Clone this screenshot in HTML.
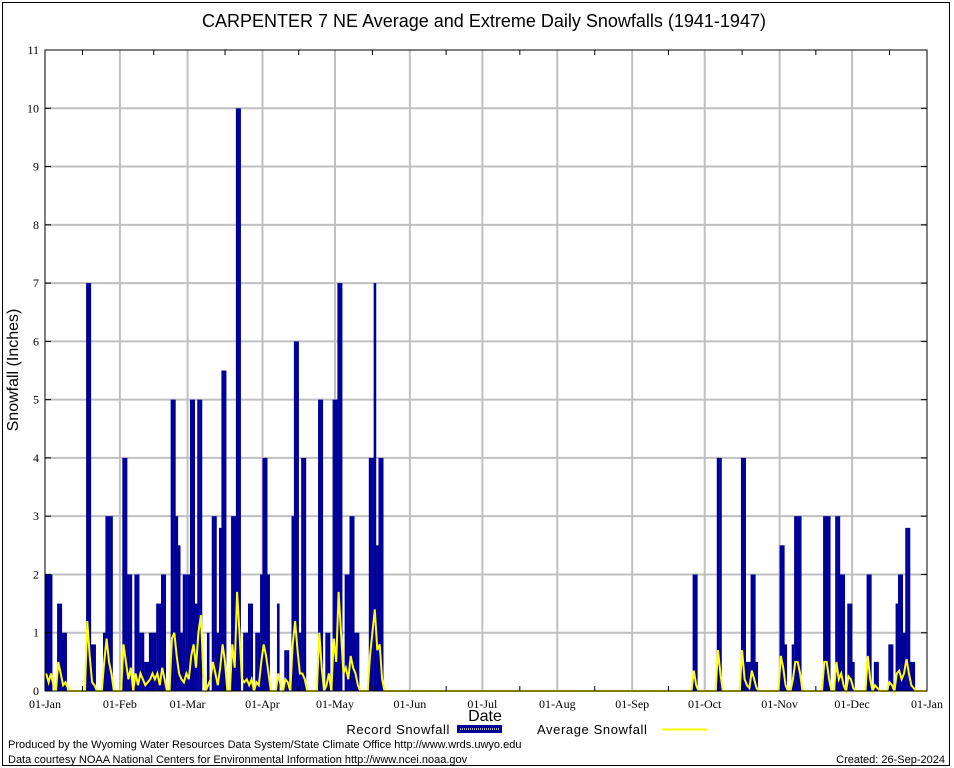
<!DOCTYPE html>
<html><head><meta charset="utf-8"><style>
html,body{margin:0;padding:0;background:#fff;}
svg{display:block;}
</style></head><body>
<svg id="chart" width="954" height="768" viewBox="0 0 954 768" xmlns="http://www.w3.org/2000/svg">
<rect x="2.5" y="2.5" width="947" height="763" fill="#fff" stroke="#000" stroke-width="1"/>
<text x="484" y="27" text-anchor="middle" font-family="Liberation Sans, sans-serif" font-size="18">CARPENTER 7 NE Average and Extreme Daily Snowfalls (1941-1947)</text>
<g id="grid"></g>
<g id="bars"></g>
<g id="avg"></g>
<g id="axes"></g>
<text transform="translate(18,370) rotate(-90)" text-anchor="middle" font-family="Liberation Sans, sans-serif" font-size="16">Snowfall (Inches)</text>
<text x="485" y="721" text-anchor="middle" font-family="Liberation Sans, sans-serif" font-size="16">Date</text>
<g>
<text x="450" y="734" text-anchor="end" font-family="Liberation Sans, sans-serif" font-size="13" letter-spacing="0.6">Record Snowfall</text>
<rect x="457.5" y="725.5" width="44" height="7" fill="#000099" stroke="#000099"/>
<line x1="460" y1="729" x2="499" y2="729" stroke="#aab" stroke-width="2" stroke-dasharray="1,1"/>
<text x="537" y="734" font-family="Liberation Sans, sans-serif" font-size="13" letter-spacing="0.6">Average Snowfall</text>
<line x1="662" y1="729.5" x2="707" y2="729.5" stroke="#ffff00" stroke-width="2"/>
</g>
<text x="8" y="748" font-family="Liberation Sans, sans-serif" font-size="11">Produced by the Wyoming Water Resources Data System/State Climate Office http://www.wrds.uwyo.edu</text>
<text x="8" y="763" font-family="Liberation Sans, sans-serif" font-size="11">Data courtesy NOAA National Centers for Environmental Information http://www.ncei.noaa.gov</text>
<text x="945" y="763" text-anchor="end" font-family="Liberation Sans, sans-serif" font-size="11">Created:  26-Sep-2024</text>
</svg>
<script>
const monthLabels = ["01-Jan","01-Feb","01-Mar","01-Apr","01-May","01-Jun","01-Jul","01-Aug","01-Sep","01-Oct","01-Nov","01-Dec","01-Jan"];
const monthStartDays = [0,31,59,90,120,151,181,212,243,273,304,334,365];
const yTicks = [0,1,2,3,4,5,6,7,8,9,10,11];
const snowDays = [0,1,2,3,5,6,7,8,9,17,18,19,20,24,25,26,27,32,33,34,35,37,38,39,40,41,42,43,44,45,46,47,48,49,52,53,54,55,56,57,58,59,60,61,62,63,64,65,67,68,69,70,71,72,73,74,77,78,79,80,81,82,83,84,85,87,88,89,90,91,92,96,97,99,100,102,103,104,105,106,107,113,114,116,117,119,120,121,122,123,124,125,126,127,128,129,134,135,136,137,138,139,268,269,278,279,288,289,290,291,292,293,294,304,305,306,309,310,311,312,322,323,324,327,328,329,330,332,333,334,340,341,343,344,349,350,352,353,354,355,356,357,358,359];
const recordSnow = [2,2,2,0,1.5,1.5,1,1,0,7,7,0.8,0.8,1,3,3,3,4,4,2,2,2,2,1,1,0.5,0.5,1,1,1,1.5,1.5,2,2,5,5,3,2.5,1,2,2,2,5,5,1.5,5,5,0,1,0,3,3,1,2.8,5.5,5.5,3,3,10,10,0,1,1,1.5,1.5,1,1,2,4,4,2,1.5,0,0.7,0.7,3,6,6,1,4,4,5,5,1,1,5,5,7,7,0,2,2,3,3,1,1,4,4,7,2.5,4,4,2,2,4,4,4,4,0.5,0.5,2,2,0.5,2.5,2.5,0.8,0.8,3,3,3,3,3,3,3,3,2,2,1.5,1.5,0.5,2,2,0.5,0.5,0.8,0.8,1.5,2,2,1,2.8,2.8,0.5,0.5];
const avgSnow = [0.3,0.15,0.3,0.1,0.5,0.3,0.1,0.15,0.05,1.2,0.6,0.15,0.1,0.5,0.9,0.5,0.3,0.8,0.5,0.2,0.4,0.3,0.1,0.3,0.2,0.1,0.15,0.2,0.3,0.2,0.3,0.1,0.4,0.2,0.9,1.0,0.6,0.3,0.2,0.15,0.3,0.2,0.6,0.8,0.4,1.0,1.3,0.3,0.1,0.2,0.5,0.3,0.1,0.4,0.8,0.5,0.8,0.4,1.7,1.0,0.2,0.15,0.2,0.1,0.2,0.15,0.1,0.5,0.8,0.6,0.3,0.3,0.1,0.2,0.15,0.8,1.2,0.7,0.3,0.3,0.2,1.0,0.4,0.1,0.3,0.9,0.5,1.7,1.0,0.3,0.4,0.2,0.6,0.4,0.3,0.1,0.6,1.0,1.4,0.7,0.8,0.2,0.35,0.1,0.7,0.3,0.7,0.2,0.1,0.05,0.35,0.2,0.05,0.6,0.4,0.1,0.2,0.5,0.5,0.3,0.5,0.5,0.2,0.5,0.2,0.3,0.1,0.25,0.2,0.05,0.6,0.2,0.1,0.05,0.15,0.1,0.3,0.35,0.2,0.3,0.55,0.3,0.1,0.05];

const NS="http://www.w3.org/2000/svg";
const L=45,R=927,T=50,B=691,YMAX=11,NDAYS=365;
const xScale=d=>L+d*(R-L)/NDAYS;
const yScale=v=>B-v*(B-T)/YMAX;
function mk(tag,attrs,parent){const e=document.createElementNS(NS,tag);for(const k in attrs)e.setAttribute(k,attrs[k]);parent.appendChild(e);return e;}
const grid=document.getElementById('grid'),bars=document.getElementById('bars'),avgG=document.getElementById('avg'),axes=document.getElementById('axes');

yTicks.forEach(v=>{
  if(v>0&&v<YMAX){const g=mk('line',{x1:L,x2:R,y1:yScale(v),y2:yScale(v),stroke:'#c0c0c0','stroke-width':2},grid);
  
  }
  const t=mk('text',{x:L-6,y:yScale(v)+4,'text-anchor':'end','font-family':'Liberation Serif, serif','font-size':12},axes);
  t.textContent=String(v);
  
  
  [[L,L+6],[R,R-6]].forEach(p=>{const tk=mk('line',{x1:p[0],x2:p[1],y1:yScale(v),y2:yScale(v),stroke:'#000'},axes);
  
  });
});
monthStartDays.forEach((d,i)=>{
  const x=xScale(d);
  if(i>0&&i<12){const g=mk('line',{x1:x,x2:x,y1:T,y2:B,stroke:'#c0c0c0','stroke-width':2},grid);
  
  }
  const t=mk('text',{x:x,y:708,'text-anchor':'middle','font-family':'Liberation Serif, serif','font-size':12},axes);
  t.textContent=monthLabels[i];
  
  
  if(i<12){const xm=xScale(d+(monthStartDays[i+1]-d)/2);
    [[T,T+5],[B,B-5]].forEach(p=>{const tk=mk('line',{x1:xm,x2:xm,y1:p[0],y2:p[1],stroke:'#000'},axes);
    
    });}
});
snowDays.forEach((d,i)=>{
  if(recordSnow[i]<=0)return;
  const r=mk('rect',{x:xScale(d),y:yScale(recordSnow[i]),width:xScale(d+1)-xScale(d)+0.2,height:B-yScale(recordSnow[i]),fill:'#000099'},bars);
  
  
});
const avgByDay=new Array(NDAYS).fill(0);
snowDays.forEach((d,i)=>{avgByDay[d]=avgSnow[i];});
let pts=[];
for(let d=0;d<NDAYS;d++){pts.push((xScale(d)+1.2).toFixed(1)+','+yScale(avgByDay[d]).toFixed(1));}
const pl=mk('polyline',{points:pts.join(' '),fill:'none',stroke:'#ffff00','stroke-width':2},avgG);


const fr=mk('rect',{x:L,y:T,width:R-L,height:B-T,fill:'none',stroke:'#000','stroke-width':1},axes);


</script>
</body></html>
